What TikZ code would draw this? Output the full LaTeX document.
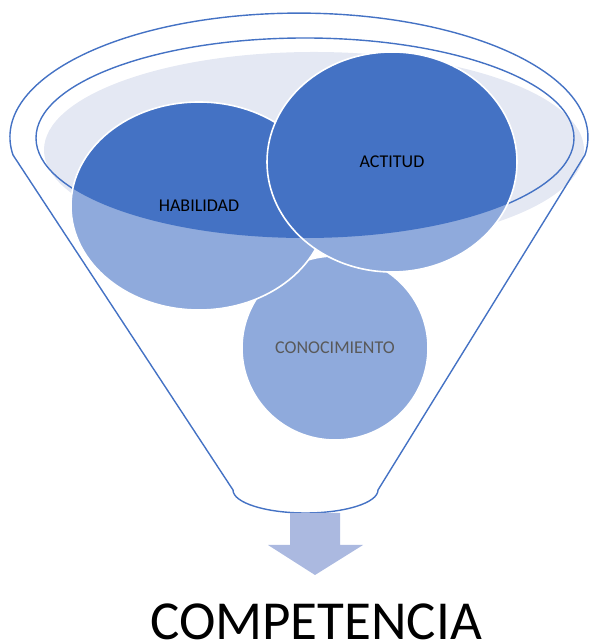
\documentclass[tikz,border=0pt]{standalone}
\usepackage{tikz}
\usetikzlibrary{shapes.geometric}
\usepackage{xcolor}
\usepackage{fontspec}
\setmainfont{Carlito}
\definecolor{funnelblue}{HTML}{4472C4}
\definecolor{softblue}{HTML}{8FAADC}
\definecolor{paleblue}{HTML}{E4E8F3}
\definecolor{arrowblue}{HTML}{ABB9E0}
\definecolor{labelgray}{HTML}{595959}

\begin{document}
\begin{tikzpicture}[x=1pt,y=1pt,
	blob/.style={ellipse,fill=softblue,draw=white,line width=1.6pt,inner sep=0pt,font=\fontsize{18}{20}\selectfont,
		path picture={\fill[funnelblue] (rim) ellipse [x radius=269,y radius=100];}}]
				\useasboundingbox (0,0) rectangle (588,644);
				\coordinate(rim) at (305,506);
				\coordinate(top) at (299,507);
				\coordinate(liquid) at (314,494);
				\coordinate(l) at (13,489);
				\coordinate(r) at (585,489);
				\coordinate(bl) at (233,154);
				\coordinate(br) at (378,154);
				\fill[paleblue] (liquid) ellipse [x radius=270,y radius=98];
				\draw[funnelblue,line width=1.4pt] (rim) ellipse [x radius=269,y radius=100];
				\draw[funnelblue,line width=1.4pt] (l) arc [start angle=188.3,end angle=-8.3,x radius=289,y radius=124] -- (br)
					arc [start angle=0,end angle=-180,x radius=72.5,y radius=23] -- cycle;
				\node(con) at (335,296)[blob,path picture={},minimum width=186,minimum height=184,text=labelgray]{CONOCIMIENTO};
				\node(hab) at (199,438)[blob,minimum width=256,minimum height=208]{HABILIDAD};
				\node(act) at (392,482)[blob,minimum width=250,minimum height=220]{ACTITUD};
				\fill[arrowblue] (290,131) -- (340,131) -- (340,99) -- (363,99) -- (315,69) -- (268,99) -- (290,99) -- cycle;
				\node(comp) at (316,5)[anchor=base,inner sep=0pt,font=\fontsize{55}{60}\selectfont]{COMPETENCIA};
			\end{tikzpicture}
\end{document}
